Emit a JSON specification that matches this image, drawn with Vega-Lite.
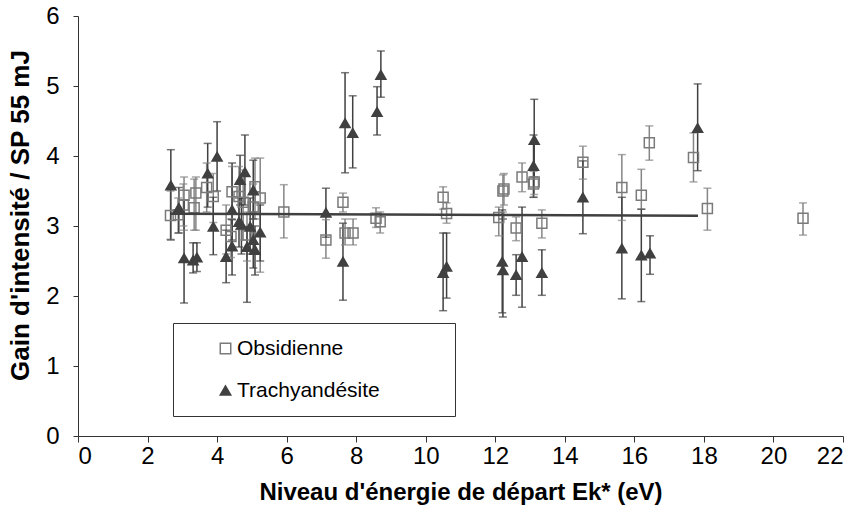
{
  "$schema": "https://vega.github.io/schema/vega-lite/v6.json",
  "width": 765,
  "height": 420,
  "autosize": {"type": "none"},
  "padding": {"left": 78, "top": 16, "right": 13, "bottom": 93},
  "background": "white",
  "config": {
    "view": {"stroke": null},
    "font": "Liberation Sans",
    "axis": {
      "domainColor": "#333333",
      "tickColor": "#333333",
      "domainWidth": 1,
      "tickWidth": 1,
      "grid": false,
      "labelFont": "Liberation Sans",
      "labelFontSize": 24,
      "labelColor": "#000000",
      "titleFont": "Liberation Sans",
      "titleFontSize": 24,
      "titleFontWeight": "bold",
      "titleColor": "#000000"
    },
    "axisX": {"tickSize": 6, "labelPadding": 2, "titlePadding": 12},
    "axisY": {"tickSize": 5, "labelPadding": 14, "titlePadding": 12, "titleFontSize": 26, "titleY": 199},
    "legend": {
      "orient": "none",
      "legendX": 95,
      "legendY": 307,
      "strokeColor": "#333333",
      "fillColor": "white",
      "padding": 15,
      "symbolOffset": 27,
      "labelOffset": 1,
      "labelFont": "Liberation Sans",
      "labelFontSize": 21,
      "labelColor": "#000000",
      "labelLimit": 400,
      "rowPadding": 20,
      "symbolSize": 110,
      "symbolStrokeWidth": 1.5
    }
  },
  "datasets": {
    "pts": [
      {"x": 2.66, "y": 3.15, "lo": 2.81, "hi": 3.5, "s": "Obsidienne"},
      {"x": 2.88, "y": 3.16, "lo": 2.9, "hi": 3.4, "s": "Obsidienne"},
      {"x": 3.05, "y": 3.44, "lo": 2.94, "hi": 3.7, "s": "Obsidienne"},
      {"x": 3.03, "y": 3.3, "lo": 3.0, "hi": 3.6, "s": "Obsidienne"},
      {"x": 3.34, "y": 3.26, "lo": 2.94, "hi": 3.67, "s": "Obsidienne"},
      {"x": 3.39, "y": 3.47, "lo": 2.94, "hi": 3.7, "s": "Obsidienne"},
      {"x": 3.7, "y": 3.55, "lo": 3.2, "hi": 3.9, "s": "Obsidienne"},
      {"x": 3.89, "y": 3.42, "lo": 3.05, "hi": 3.75, "s": "Obsidienne"},
      {"x": 4.43, "y": 3.49, "lo": 3.1, "hi": 3.85, "s": "Obsidienne"},
      {"x": 4.26, "y": 2.94, "lo": 2.6, "hi": 3.3, "s": "Obsidienne"},
      {"x": 4.4, "y": 2.85, "lo": 2.55, "hi": 3.1, "s": "Obsidienne"},
      {"x": 4.63, "y": 3.42, "lo": 2.95, "hi": 3.85, "s": "Obsidienne"},
      {"x": 4.75, "y": 3.34, "lo": 2.8, "hi": 3.8, "s": "Obsidienne"},
      {"x": 4.86, "y": 2.87, "lo": 2.5, "hi": 3.2, "s": "Obsidienne"},
      {"x": 5.09, "y": 3.56, "lo": 3.1, "hi": 3.97, "s": "Obsidienne"},
      {"x": 5.24, "y": 3.4, "lo": 2.34, "hi": 3.97, "s": "Obsidienne"},
      {"x": 5.04, "y": 3.27, "lo": 2.9, "hi": 3.6, "s": "Obsidienne"},
      {"x": 5.92, "y": 3.2, "lo": 2.83, "hi": 3.59, "s": "Obsidienne"},
      {"x": 7.13, "y": 2.8, "lo": 2.54, "hi": 3.09, "s": "Obsidienne"},
      {"x": 7.62, "y": 3.34, "lo": 3.2, "hi": 3.47, "s": "Obsidienne"},
      {"x": 7.68, "y": 2.9, "lo": 2.73, "hi": 3.1, "s": "Obsidienne"},
      {"x": 7.91, "y": 2.9, "lo": 2.73, "hi": 3.1, "s": "Obsidienne"},
      {"x": 8.57, "y": 3.11, "lo": 2.98, "hi": 3.26, "s": "Obsidienne"},
      {"x": 8.69, "y": 3.06, "lo": 2.9, "hi": 3.2, "s": "Obsidienne"},
      {"x": 10.5, "y": 3.41, "lo": 3.24, "hi": 3.56, "s": "Obsidienne"},
      {"x": 10.6, "y": 3.18, "lo": 3.04, "hi": 3.33, "s": "Obsidienne"},
      {"x": 12.22, "y": 3.5, "lo": 3.2, "hi": 3.73, "s": "Obsidienne"},
      {"x": 12.25, "y": 3.53, "lo": 3.3, "hi": 3.75, "s": "Obsidienne"},
      {"x": 12.1, "y": 3.12, "lo": 2.86, "hi": 3.27, "s": "Obsidienne"},
      {"x": 12.6, "y": 2.97, "lo": 2.79, "hi": 3.13, "s": "Obsidienne"},
      {"x": 12.77, "y": 3.7, "lo": 3.49, "hi": 3.9, "s": "Obsidienne"},
      {"x": 13.1, "y": 3.6, "lo": 3.41, "hi": 3.78, "s": "Obsidienne"},
      {"x": 13.12, "y": 3.63, "lo": 3.45, "hi": 3.8, "s": "Obsidienne"},
      {"x": 13.34, "y": 3.04, "lo": 2.83, "hi": 3.23, "s": "Obsidienne"},
      {"x": 14.52, "y": 3.91, "lo": 3.67, "hi": 4.14, "s": "Obsidienne"},
      {"x": 15.64, "y": 3.55, "lo": 3.08, "hi": 4.02, "s": "Obsidienne"},
      {"x": 16.2, "y": 3.44, "lo": 3.24, "hi": 3.81, "s": "Obsidienne"},
      {"x": 16.43, "y": 4.19, "lo": 3.94, "hi": 4.43, "s": "Obsidienne"},
      {"x": 17.7, "y": 3.98, "lo": 3.63, "hi": 4.33, "s": "Obsidienne"},
      {"x": 18.1, "y": 3.25, "lo": 2.94, "hi": 3.54, "s": "Obsidienne"},
      {"x": 20.85, "y": 3.11, "lo": 2.87, "hi": 3.33, "s": "Obsidienne"},
      {"x": 2.67, "y": 3.58, "lo": 2.8, "hi": 4.09, "s": "Trachyandésite"},
      {"x": 2.9, "y": 3.26, "lo": 2.9, "hi": 3.55, "s": "Trachyandésite"},
      {"x": 3.05, "y": 2.54, "lo": 1.9, "hi": 3.37, "s": "Trachyandésite"},
      {"x": 3.31, "y": 2.51, "lo": 2.33, "hi": 2.76, "s": "Trachyandésite"},
      {"x": 3.42, "y": 2.55, "lo": 2.35, "hi": 2.76, "s": "Trachyandésite"},
      {"x": 3.73, "y": 3.75, "lo": 3.27, "hi": 4.18, "s": "Trachyandésite"},
      {"x": 3.89, "y": 2.99, "lo": 2.59, "hi": 3.41, "s": "Trachyandésite"},
      {"x": 4.0, "y": 3.99, "lo": 3.5, "hi": 4.49, "s": "Trachyandésite"},
      {"x": 4.26, "y": 2.56, "lo": 2.19, "hi": 2.94, "s": "Trachyandésite"},
      {"x": 4.43, "y": 3.23, "lo": 2.8, "hi": 3.9, "s": "Trachyandésite"},
      {"x": 4.43, "y": 2.71, "lo": 2.3, "hi": 3.09, "s": "Trachyandésite"},
      {"x": 4.66, "y": 3.66, "lo": 3.3, "hi": 4.01, "s": "Trachyandésite"},
      {"x": 4.8, "y": 3.77, "lo": 3.3, "hi": 4.3, "s": "Trachyandésite"},
      {"x": 4.63, "y": 3.06, "lo": 2.7, "hi": 3.4, "s": "Trachyandésite"},
      {"x": 4.7, "y": 3.02, "lo": 2.6, "hi": 3.4, "s": "Trachyandésite"},
      {"x": 4.86, "y": 2.7, "lo": 1.91, "hi": 2.99, "s": "Trachyandésite"},
      {"x": 4.95, "y": 2.99, "lo": 2.6, "hi": 3.4, "s": "Trachyandésite"},
      {"x": 5.04, "y": 3.51, "lo": 3.1, "hi": 3.94, "s": "Trachyandésite"},
      {"x": 5.04, "y": 2.8, "lo": 2.4, "hi": 3.2, "s": "Trachyandésite"},
      {"x": 5.09, "y": 2.66, "lo": 2.3, "hi": 3.0, "s": "Trachyandésite"},
      {"x": 5.24, "y": 2.91, "lo": 2.5, "hi": 3.3, "s": "Trachyandésite"},
      {"x": 7.13, "y": 3.19, "lo": 2.84, "hi": 3.54, "s": "Trachyandésite"},
      {"x": 7.62, "y": 2.49, "lo": 1.94, "hi": 3.04, "s": "Trachyandésite"},
      {"x": 7.68, "y": 4.47, "lo": 3.76, "hi": 5.19, "s": "Trachyandésite"},
      {"x": 7.9, "y": 4.33, "lo": 3.83, "hi": 4.86, "s": "Trachyandésite"},
      {"x": 8.6, "y": 4.63, "lo": 4.3, "hi": 4.99, "s": "Trachyandésite"},
      {"x": 8.71, "y": 5.16, "lo": 4.84, "hi": 5.5, "s": "Trachyandésite"},
      {"x": 10.5, "y": 2.33, "lo": 1.79, "hi": 2.9, "s": "Trachyandésite"},
      {"x": 10.6, "y": 2.42, "lo": 1.97, "hi": 2.9, "s": "Trachyandésite"},
      {"x": 12.2, "y": 2.49, "lo": 1.76, "hi": 3.23, "s": "Trachyandésite"},
      {"x": 12.22, "y": 2.37, "lo": 1.7, "hi": 3.1, "s": "Trachyandésite"},
      {"x": 12.6, "y": 2.3, "lo": 2.01, "hi": 2.59, "s": "Trachyandésite"},
      {"x": 12.77, "y": 2.56, "lo": 1.84, "hi": 3.27, "s": "Trachyandésite"},
      {"x": 13.1, "y": 3.86, "lo": 3.41, "hi": 4.3, "s": "Trachyandésite"},
      {"x": 13.12, "y": 4.23, "lo": 3.7, "hi": 4.81, "s": "Trachyandésite"},
      {"x": 13.34, "y": 2.33, "lo": 2.01, "hi": 2.66, "s": "Trachyandésite"},
      {"x": 14.52, "y": 3.41, "lo": 2.89, "hi": 3.93, "s": "Trachyandésite"},
      {"x": 15.64, "y": 2.68, "lo": 1.96, "hi": 3.41, "s": "Trachyandésite"},
      {"x": 16.2, "y": 2.58, "lo": 1.92, "hi": 3.24, "s": "Trachyandésite"},
      {"x": 16.45, "y": 2.61, "lo": 2.31, "hi": 2.86, "s": "Trachyandésite"},
      {"x": 17.82, "y": 4.4, "lo": 3.79, "hi": 5.03, "s": "Trachyandésite"}
    ],
    "trend": [
      {"x": 2.65, "y": 3.175},
      {"x": 17.83, "y": 3.147}
    ]
  },
  "encoding": {
    "x": {
      "field": "x",
      "type": "quantitative",
      "scale": {"domain": [0, 22], "nice": false, "zero": false},
      "axis": {"values": [0, 2, 4, 6, 8, 10, 12, 14, 16, 18, 20, 22], "format": "d", "title": "Niveau d'énergie de départ Ek* (eV)"}
    }
  },
  "layer": [
    {
      "data": {"name": "pts"},
      "mark": {"type": "rule", "strokeWidth": 1.5},
      "encoding": {
        "y": {
          "field": "lo",
          "type": "quantitative",
          "scale": {"domain": [0, 6], "nice": false},
          "axis": {"values": [0, 1, 2, 3, 4, 5, 6], "format": "d", "title": "Gain d'intensité / SP 55 mJ"}
        },
        "y2": {"field": "hi"},
        "stroke": {"condition": {"test": "datum.s === 'Obsidienne'", "value": "#858585"}, "value": "#404040"}
      }
    },
    {
      "data": {"name": "pts"},
      "mark": {"type": "tick", "orient": "horizontal", "size": 8, "thickness": 1.5},
      "encoding": {
        "y": {"field": "lo", "type": "quantitative", "title": "Gain d'intensité / SP 55 mJ"},
        "color": {"condition": {"test": "datum.s === 'Obsidienne'", "value": "#858585"}, "value": "#404040"}
      }
    },
    {
      "data": {"name": "pts"},
      "mark": {"type": "tick", "orient": "horizontal", "size": 8, "thickness": 1.5},
      "encoding": {
        "y": {"field": "hi", "type": "quantitative", "title": "Gain d'intensité / SP 55 mJ"},
        "color": {"condition": {"test": "datum.s === 'Obsidienne'", "value": "#858585"}, "value": "#404040"}
      }
    },
    {
      "data": {"name": "pts"},
      "mark": {"type": "point", "filled": true, "strokeWidth": 1.5, "opacity": 1, "size": 100},
      "encoding": {
        "y": {"field": "y", "type": "quantitative", "title": "Gain d'intensité / SP 55 mJ"},
        "shape": {
          "field": "s",
          "type": "nominal",
          "scale": {"domain": ["Obsidienne", "Trachyandésite"], "range": ["square", "triangle-up"]},
          "legend": {"title": null, "labelExpr": "datum.label + '\u2800\u2800\u2800\u2800'"}
        },
        "fill": {
          "field": "s",
          "type": "nominal",
          "scale": {"domain": ["Obsidienne", "Trachyandésite"], "range": ["transparent", "#404040"]},
          "legend": {"title": null, "labelExpr": "datum.label + '\u2800\u2800\u2800\u2800'"}
        },
        "stroke": {
          "field": "s",
          "type": "nominal",
          "scale": {"domain": ["Obsidienne", "Trachyandésite"], "range": ["#7a7a7a", "#404040"]},
          "legend": {"title": null, "labelExpr": "datum.label + '\u2800\u2800\u2800\u2800'"}
        }
      }
    },
    {
      "data": {"name": "trend"},
      "mark": {"type": "line", "color": "#404040", "strokeWidth": 2.5},
      "encoding": {
        "y": {"field": "y", "type": "quantitative", "title": "Gain d'intensité / SP 55 mJ"}
      }
    }
  ]
}
